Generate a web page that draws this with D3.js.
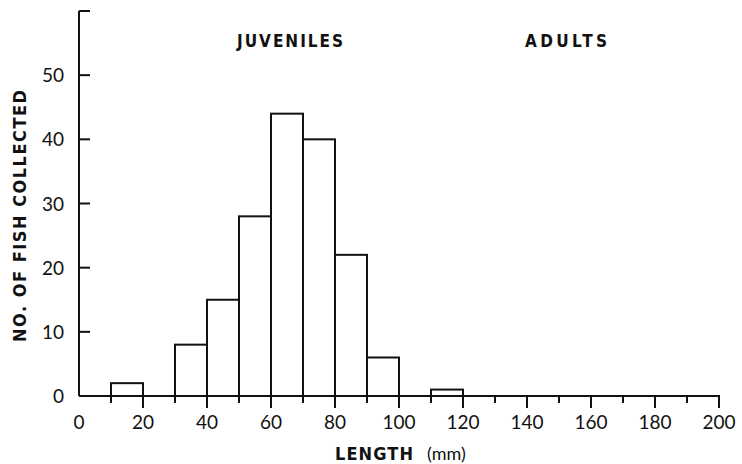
<!DOCTYPE html>
<html>
<head>
<meta charset="utf-8">
<script src="https://cdn.jsdelivr.net/npm/d3@7"></script>
<style>
  body { margin: 0; background: #fff; }
  svg { display: block; }
  .tick-label { font-family: Lato, "Open Sans", sans-serif; font-size: 19px; fill: #111; }
  .heavy { font-family: "Liberation Sans Narrow", "DejaVu Sans Condensed", "DejaVu Sans", sans-serif; font-weight: bold; fill: #111; }
</style>
</head>
<body>
<div id="chart"></div>
<script>
const WIDTH = 742;
const HEIGHT = 464;

// length classes (mm), lower edge of each 10 mm bin
const binStarts = [0, 10, 20, 30, 40, 50, 60, 70, 80, 90, 100, 110, 120, 130, 140, 150, 160, 170, 180, 190];
// number of fish per bin
const fishCounts = [0, 2, 0, 8, 15, 28, 44, 40, 22, 6, 0, 1, 0, 0, 0, 0, 0, 0, 0, 0];
const binWidth = 10;

const xTicks = d3.range(10, 201, 10);
const xLabels = [0, 20, 40, 60, 80, 100, 120, 140, 160, 180, 200];
const yTicks = [10, 20, 30, 40, 50, 60];
const yLabels = [0, 10, 20, 30, 40, 50];

const groupLabels = ['JUVENILES', 'ADULTS'];
const groupCenters = [290, 566]; // positions in px

const SVG = d3.select('#chart')
    .append('svg')
    .attr('width', WIDTH)
    .attr('height', HEIGHT);

const x = d3.scaleLinear().domain([0, 200]).range([79, 719]);
const y = d3.scaleLinear().domain([0, 60]).range([396, 11]);

// bars (outline only)
const bars = binStarts.map((b, i) => ({ start: b, count: fishCounts[i] })).filter(d => d.count > 0);
SVG.append('g')
    .attr('class', 'bars')
    .selectAll('rect')
    .data(bars)
    .enter().append('rect')
    .attr('x', d => x(d.start))
    .attr('y', d => y(d.count))
    .attr('width', d => x(d.start + binWidth) - x(d.start))
    .attr('height', d => y(0) - y(d.count))
    .attr('fill', 'white')
    .attr('stroke', '#111')
    .attr('stroke-width', 2);

// x axis: line + ticks pointing down
const xAxis = SVG.append('g').attr('class', 'x-axis');
xAxis.append('line')
    .attr('x1', x(0)).attr('x2', x(200))
    .attr('y1', y(0)).attr('y2', y(0))
    .attr('stroke', '#111').attr('stroke-width', 2);
xAxis.selectAll('line.tick')
    .data(xTicks)
    .enter().append('line')
    .attr('class', 'tick')
    .attr('x1', d => x(d)).attr('x2', d => x(d))
    .attr('y1', y(0) - 1)
    .attr('y2', d => y(0) + (d % 20 === 0 ? 12 : 7))
    .attr('stroke', '#111').attr('stroke-width', 2);
xAxis.selectAll('text')
    .data(xLabels)
    .enter().append('text')
    .attr('class', 'tick-label')
    .attr('x', d => x(d))
    .attr('y', 429)
    .attr('text-anchor', 'middle')
    .text(d => d);

// y axis: line + ticks pointing right
const yAxis = SVG.append('g').attr('class', 'y-axis');
yAxis.append('line')
    .attr('x1', x(0)).attr('x2', x(0))
    .attr('y1', y(60)).attr('y2', y(0))
    .attr('stroke', '#111').attr('stroke-width', 2);
yAxis.selectAll('line.tick')
    .data(yTicks)
    .enter().append('line')
    .attr('class', 'tick')
    .attr('x1', x(0)).attr('x2', x(0) + 11)
    .attr('y1', d => y(d)).attr('y2', d => y(d))
    .attr('stroke', '#111').attr('stroke-width', 2);
yAxis.selectAll('text')
    .data(yLabels)
    .enter().append('text')
    .attr('class', 'tick-label')
    .attr('x', 64)
    .attr('y', d => y(d) + 7)
    .attr('text-anchor', 'end')
    .text(d => d);

// axis titles
SVG.append('text')
    .attr('class', 'heavy')
    .attr('transform', 'translate(26,216) rotate(-90)')
    .attr('text-anchor', 'middle')
    .attr('font-size', 18)
    .attr('textLength', 252)
    .attr('lengthAdjust', 'spacing')
    .text('NO. OF FISH COLLECTED');

SVG.append('text')
    .attr('class', 'heavy')
    .attr('x', 335).attr('y', 460)
    .attr('font-size', 18)
    .attr('textLength', 78)
    .attr('lengthAdjust', 'spacing')
    .text('LENGTH');
SVG.append('text')
    .attr('x', 427).attr('y', 460)
    .style('font-family', 'Lato, "Open Sans", sans-serif')
    .style('font-size', '18px')
    .attr('fill', '#111')
    .text('(mm)');

// group labels
SVG.append('g')
    .selectAll('text')
    .data(groupLabels)
    .enter().append('text')
    .attr('class', 'heavy')
    .attr('x', (d, i) => groupCenters[i])
    .attr('y', 47)
    .attr('text-anchor', 'middle')
    .attr('font-size', 17)
    .attr('textLength', (d, i) => i === 0 ? 106 : 82)
    .attr('lengthAdjust', 'spacing')
    .text(d => d);
</script>
</body>
</html>
